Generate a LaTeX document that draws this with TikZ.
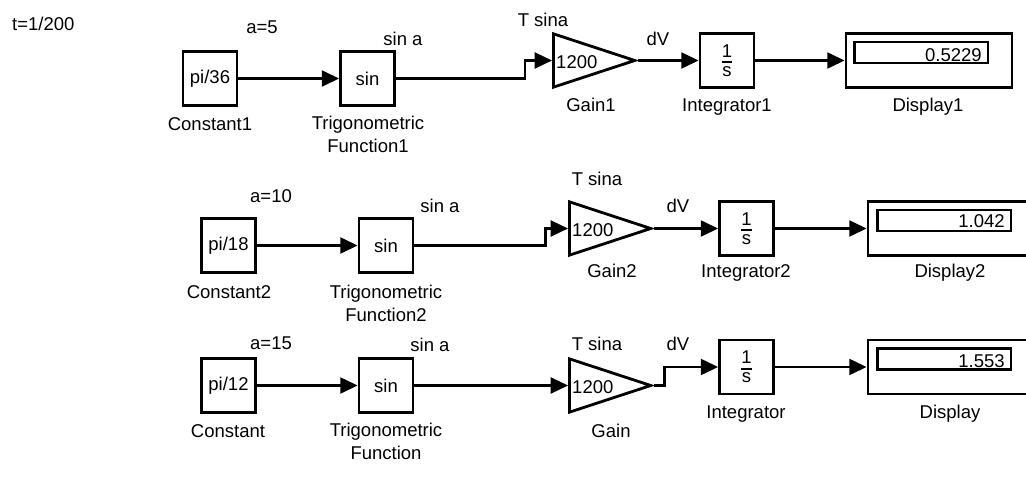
\documentclass[tikz,border=0pt]{standalone}
\usepackage{fontspec}
\setmainfont{Liberation Sans}
\usetikzlibrary{arrows.meta,positioning,shapes.geometric}
\newcommand{\oneovers}{$\mbox{\raisebox{0pt}[\height][2pt]{1}}\above1.4pt\mbox{\raisebox{0pt}[10pt][0pt]{s}}$}

\begin{document}
\begin{tikzpicture}[
  x=0.03cm,y=-0.03cm,
  font=\fontsize{15.8}{19.6}\selectfont,
  blk/.style={draw,line width=2.4pt,minimum width=1.62cm,minimum height=1.62cm,inner sep=0pt},
  gainblk/.style={draw,line width=2.4pt,isosceles triangle,isosceles triangle stretches,
    shape border rotate=0,minimum height=2.44cm,minimum width=1.6cm,inner sep=0pt,anchor=west},
  disp/.style={draw,line width=2.4pt,minimum width=4.98cm,minimum height=1.62cm,inner sep=0pt},
  screen/.style={draw,line width=2pt,minimum width=4.0cm,minimum height=0.63cm,inner sep=0pt},
  lbl/.style={anchor=base,inner sep=0pt,align=center},
  wire/.style={line width=2pt,-{Triangle[length=5.2mm,width=4.8mm]}}
]
  \useasboundingbox (0,0) rectangle (1026,477);
  \clip (0,0) rectangle (1026,477);
  \node[lbl,anchor=base west] (tstep) at (12,31) {t=1/200};
  % first row (a=5)
  \node[blk] (const1) at (210,78.5) {pi/36};
  \node[blk] (trig1) at (367.5,78.5) {sin};
  \node[gainblk] (gain1) at (552,60.5) {};
  \node[lbl,anchor=base west] (k1) at (556,68) {1200};
  \node[blk] (int1) at (727,60.5) {\oneovers};
  \node[disp] (disp1) at (929,60.5) {};
  \node[screen] (scr1) at (921,52.5) {};
  \node[lbl,anchor=base east] (val1) at (982,61) {0.5229};
  \node[lbl] (a1) at (262,33) {a=5};
  \node[lbl] (sa1) at (403,45) {sin a};
  \node[lbl] (ts1) at (543,26) {T sina};
  \node[lbl] (dv1) at (658,45) {dV};
  \node[lbl] (const1lbl) at (210,130) {Constant1};
  \node[lbl] (trig1lbl) at (368,152) {Trigonometric\\Function1};
  \node[lbl] (gain1lbl) at (591,111) {Gain1};
  \node[lbl] (int1lbl) at (727,111) {Integrator1};
  \node[lbl] (disp1lbl) at (928,111) {Display1};
  \draw[wire] (const1) -- (trig1);
  \draw[wire] (trig1.east) -- ++(129,0) |- (gain1.west);
  \draw[wire] (gain1.apex) -- (int1.west);
  \draw[wire] (int1) -- (disp1);
  % second row (a=10)
  \node[blk] (const2) at (228.5,245.5) {pi/18};
  \node[blk] (trig2) at (386,245.5) {sin};
  \node[gainblk] (gain2) at (568,228.5) {};
  \node[lbl,anchor=base west] (k2) at (572,236) {1200};
  \node[blk] (int2) at (746.5,228.5) {\oneovers};
  \node[disp] (disp2) at (951,228.5) {};
  \node[screen] (scr2) at (944,220.5) {};
  \node[lbl,anchor=base east] (val2) at (1005,227) {1.042};
  \node[lbl] (a2) at (271,202) {a=10};
  \node[lbl] (sa2) at (440,212) {sin a};
  \node[lbl] (ts2) at (597,185) {T sina};
  \node[lbl] (dv2) at (678,212) {dV};
  \node[lbl] (const2lbl) at (229,298) {Constant2};
  \node[lbl] (trig2lbl) at (386,321) {Trigonometric\\Function2};
  \node[lbl] (gain2lbl) at (612,277) {Gain2};
  \node[lbl] (int2lbl) at (746,277) {Integrator2};
  \node[lbl] (disp2lbl) at (950,277) {Display2};
  \draw[wire] (const2) -- (trig2);
  \draw[wire] (trig2.east) -- ++(131,0) |- (gain2.west);
  \draw[wire] (gain2.apex) -- (int2.west);
  \draw[wire] (int2) -- (disp2);
  % third row (a=15)
  \node[blk] (const3) at (228.5,385.5) {pi/12};
  \node[blk] (trig3) at (386,385.5) {sin};
  \node[gainblk] (gain3) at (568,385.5) {};
  \node[lbl,anchor=base west] (k3) at (572,393) {1200};
  \node[blk] (int3) at (746.5,367) {\oneovers};
  \node[disp] (disp3) at (951,367) {};
  \node[screen] (scr3) at (944,359) {};
  \node[lbl,anchor=base east] (val3) at (1005,367) {1.553};
  \node[lbl] (a3) at (271,349) {a=15};
  \node[lbl] (sa3) at (430,351) {sin a};
  \node[lbl] (ts3) at (597,350) {T sina};
  \node[lbl] (dv3) at (678,350) {dV};
  \node[lbl] (const3lbl) at (228,437) {Constant};
  \node[lbl] (trig3lbl) at (386,459) {Trigonometric\\Function};
  \node[lbl] (gain3lbl) at (611,437) {Gain};
  \node[lbl] (int3lbl) at (746,418) {Integrator};
  \node[lbl] (disp3lbl) at (950,418) {Display};
  \draw[wire] (const3) -- (trig3);
  \draw[wire] (trig3.east) -- (gain3.west);
  \draw[wire] (gain3.apex) -- ++(10,0) |- (int3.west);
  \draw[wire] (int3) -- (disp3);
\end{tikzpicture}
\end{document}
